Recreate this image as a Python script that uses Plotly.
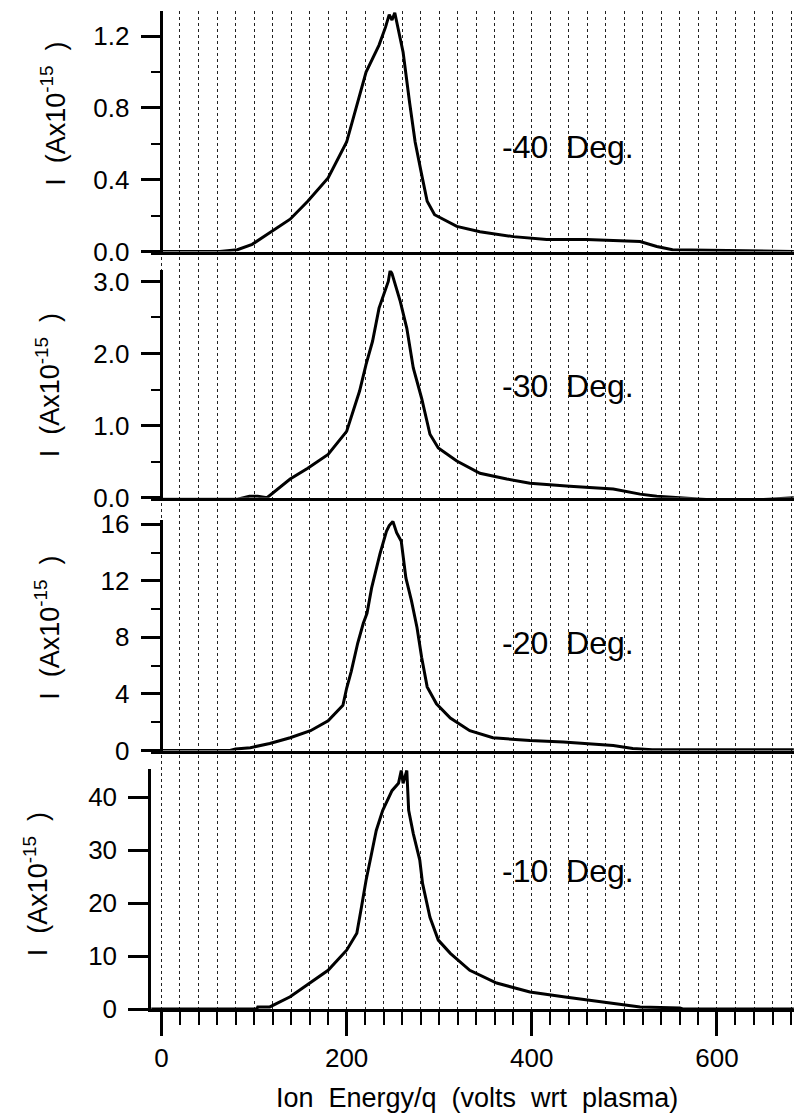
import plotly.graph_objects as go

# ---------------- data ----------------
energy_m40 = [-11, 63, 82, 98, 114, 139, 158, 180, 200, 212, 221, 235, 242, 246, 249, 252, 256, 261, 268, 274, 281, 287, 295, 319, 344, 380, 416, 459, 517, 535, 552, 683]
current_m40 = [0, 0, 0.01, 0.04, 0.095, 0.18, 0.28, 0.41, 0.61, 0.83, 1.0, 1.15, 1.25, 1.32, 1.29, 1.33, 1.24, 1.11, 0.83, 0.61, 0.43, 0.28, 0.205, 0.14, 0.11, 0.083, 0.067, 0.067, 0.056, 0.028, 0.01, 0.0]

energy_m30 = [-11, 82, 95, 104, 114, 139, 158, 180, 200, 214, 221, 228, 235, 245, 247, 249, 258, 265, 272, 281, 290, 299, 319, 344, 373, 398, 441, 488, 517, 535, 595, 643, 683]
current_m30 = [-0.02, -0.02, 0.02, 0.02, 0.0, 0.26, 0.41, 0.60, 0.92, 1.48, 1.85, 2.17, 2.63, 3.0, 3.15, 3.11, 2.72, 2.35, 1.80, 1.38, 0.88, 0.69, 0.51, 0.34, 0.26, 0.20, 0.16, 0.12, 0.05, 0.02, -0.03, -0.03, 0.0]

energy_m20 = [-11, 74, 80, 96, 117, 139, 161, 180, 196, 200, 205, 212, 218, 222, 227, 236, 243, 246, 250, 254, 259, 264, 270, 276, 281, 287, 297, 312, 333, 358, 398, 434, 488, 509, 530, 683]
current_m20 = [0, 0, 0.1, 0.2, 0.5, 0.9, 1.4, 2.1, 3.2, 4.4, 5.6, 7.6, 9.0, 9.7, 11.5, 13.9, 15.5, 15.9, 16.2, 15.4, 14.8, 12.2, 10.6, 8.7, 6.6, 4.5, 3.3, 2.3, 1.4, 0.9, 0.7, 0.6, 0.35, 0.15, 0.05, 0.05]

energy_m10 = [-11, 103, 104, 117, 139, 161, 180, 200, 211, 216, 221, 227, 232, 239, 244, 249, 256, 259, 261, 265, 267, 272, 279, 282, 290, 299, 312, 333, 362, 398, 434, 481, 517, 560, 563, 683]
current_m10 = [0, 0, 0.4, 0.4, 2.3, 4.9, 7.3, 11.1, 14.3, 19.2, 24.3, 29.4, 33.7, 37.5, 39.4, 41.2, 42.6, 45, 42.6, 45, 37.5, 33.1, 28.1, 23.7, 17.3, 13, 10.5, 7.3, 4.9, 3.2, 2.3, 1.3, 0.4, 0.2, 0, 0]

panel_labels = ["-40  Deg.", "-30  Deg.", "-20  Deg.", "-10  Deg."]
label_y = [0.58, 1.55, 7.6, 26]

ytick_vals = [[0, 0.4, 0.8, 1.2], [0, 1, 2, 3], [0, 4, 8, 12, 16], [0, 10, 20, 30, 40]]
ytick_text = [["0.0", "0.4", "0.8", "1.2"], ["0.0", "1.0", "2.0", "3.0"], ["0", "4", "8", "12", "16"], ["0", "10", "20", "30", "40"]]
y_minor = [0.2, 0.5, 2, None]
y_max = [1.34, 3.152, 16.30, 45.2]

xtick_vals = [0, 200, 400, 600]
xtick_text = ["0", "200", "400", "600"]
x_range = [-11.3, 683.2]

x_title = "Ion  Energy/q  (volts  wrt  plasma)"
y_title = "I  (Ax10<sup>-15</sup>  )"

# ---------------- layout geometry ----------------
FONT = "Liberation Sans, Arial, sans-serif"
domains = [[0.759, 1.0], [0.5123, 0.740], [0.259, 0.490], [0.0, 0.240]]
ytitle_right = [72, 67, 66, 55]
ytitle_cy = [112, 384, 627, 884]

W, H = 794, 1119
ML, MR, MT, MB = 151, 0, 9, 110
pw = W - ML - MR
ph = H - MT - MB
axis_pos = (0 - x_range[0]) / (x_range[1] - x_range[0])

series = [(energy_m40, current_m40), (energy_m30, current_m30),
          (energy_m20, current_m20), (energy_m10, current_m10)]

fig = go.Figure()
# background grid subplot (full height dotted verticals)
fig.add_trace(go.Scatter(x=[0], y=[0], mode="lines", xaxis="x", yaxis="y",
                         showlegend=False, hoverinfo="skip"))

layout = dict(
    width=W, height=H,
    margin=dict(l=ML, r=MR, t=MT, b=MB, pad=0),
    paper_bgcolor="white", plot_bgcolor="rgba(0,0,0,0)",
    showlegend=False,
    font=dict(family=FONT, size=26, color="black"),
    xaxis=dict(domain=[0, 1], range=x_range, anchor="y", showgrid=True, gridcolor="#222",
               griddash="dot", gridwidth=1, dtick=20, tick0=0, showticklabels=False,
               zeroline=False, showline=False, ticks=""),
    yaxis=dict(domain=[0, 1], range=[0, 1], anchor="x", showgrid=False, showticklabels=False,
               zeroline=False, showline=False, ticks=""),
)

annotations = []
for i, (xs, ys) in enumerate(series):
    n = i + 2
    xa, ya = f"x{n}", f"y{n}"
    fig.add_trace(go.Scatter(x=xs, y=ys, mode="lines", xaxis=xa, yaxis=ya,
                             line=dict(color="black", width=3), showlegend=False,
                             hoverinfo="skip"))
    bottom = (i == 3)
    xdict = dict(domain=[0, 1], range=x_range, anchor=ya, showgrid=False, zeroline=False,
                 showline=True, linecolor="black", linewidth=3)
    if bottom:
        xdict.update(tickvals=xtick_vals, ticktext=xtick_text, ticks="outside", ticklen=24,
                     tickwidth=3, tickcolor="black", showticklabels=True,
                     tickfont=dict(size=26, family=FONT),
                     minor=dict(dtick=20, tick0=0, ticks="outside", ticklen=13, tickwidth=2,
                                tickcolor="black", showgrid=False))
    else:
        xdict.update(showticklabels=False, ticks="")
    layout[f"xaxis{n}"] = xdict

    ydict = dict(domain=domains[i], range=[0, y_max[i]], showgrid=False, zeroline=False,
                 showline=True, linecolor="black", linewidth=2.5,
                 tickvals=ytick_vals[i], ticktext=ytick_text[i], ticks="outside",
                 ticklen=20, tickwidth=2.5, tickcolor="black",
                 tickfont=dict(size=26, family=FONT), ticklabelstandoff=6)
    if bottom:
        ydict.update(anchor=xa)
    else:
        ydict.update(anchor="free", position=axis_pos)
    if y_minor[i] is not None:
        ydict["minor"] = dict(dtick=y_minor[i], tick0=0, ticks="outside", ticklen=10,
                              tickwidth=2, tickcolor="black", showgrid=False)
    layout[f"yaxis{n}"] = ydict

    annotations.append(dict(x=366, y=label_y[i], xref=xa, yref=ya, text=panel_labels[i].replace(" ", "\u00a0"),
                            showarrow=False, xanchor="left", yanchor="middle",
                            font=dict(size=32, family=FONT, color="black")))
    annotations.append(dict(x=(ytitle_right[i] - ML) / pw, y=(H - MB - ytitle_cy[i]) / ph,
                            xref="paper", yref="paper", text=y_title.replace(" ", "\u00a0"),
                            textangle=-90, showarrow=False, xanchor="right", yanchor="middle",
                            font=dict(size=27, family=FONT, color="black")))

annotations.append(dict(x=(477 - ML) / pw, y=(H - MB - 1098) / ph, xref="paper", yref="paper",
                        text=x_title.replace(" ", "\u00a0"), showarrow=False,
                        xanchor="center", yanchor="middle",
                        font=dict(size=27, family=FONT, color="black")))
layout["annotations"] = annotations

fig.update_layout(**layout)
fig.write_html("out.html")
